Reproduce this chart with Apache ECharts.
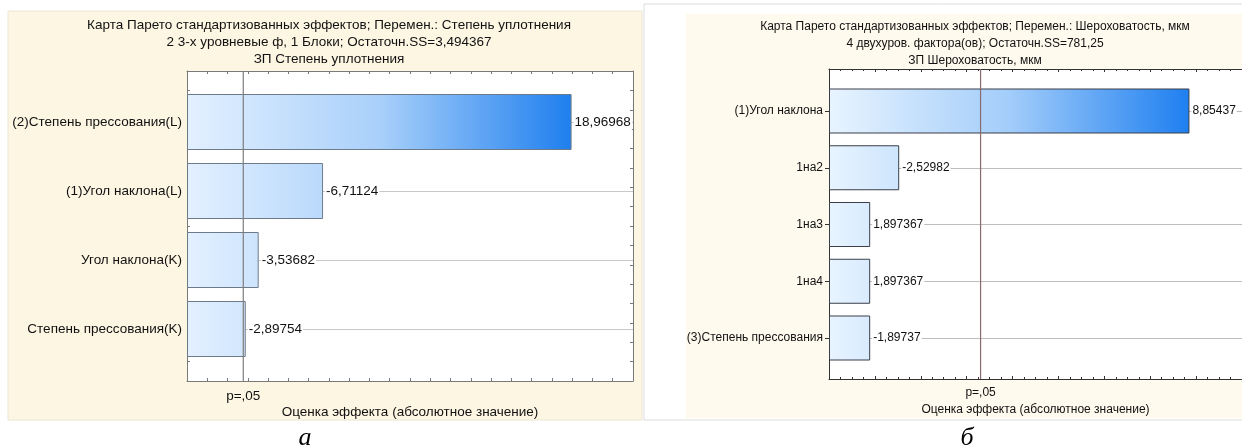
<!DOCTYPE html>
<html><head><meta charset="utf-8">
<script src="https://cdn.jsdelivr.net/npm/echarts@6/dist/echarts.min.js"></script>
<style>html,body{margin:0;padding:0;background:#fff;overflow:hidden}#c{width:1242px;height:447px}</style>
</head><body><div id="c"></div>
<script>
// ---- data ----
const leftTitleLines = ['Карта Парето стандартизованных эффектов; Перемен.: Степень уплотнения', '2 3-х уровневые ф, 1 Блоки; Остаточн.SS=3,494367', 'ЗП Степень уплотнения'];
const leftCategories = ['(2)Степень прессования(L)', '(1)Угол наклона(L)', 'Угол наклона(K)', 'Степень прессования(K)'];
const leftEffects = [18.96968, -6.71124, -3.53682, -2.89754];
const leftCritical = 2.776;
const leftAxisMin = 0, leftAxisMax = 22, leftAxisStep = 1;

const rightTitleLines = ['Карта Парето стандартизованных эффектов; Перемен.: Шероховатость, мкм', '4 двухуров. фактора(ов); Остаточн.SS=781,25', 'ЗП Шероховатость, мкм'];
const rightCategories = ['(1)Угол наклона', '1на2', '1на3', '1на4', '(3)Степень прессования'];
const rightEffects = [8.85437, -2.52982, 1.897367, 1.897367, -1.89737];
const rightCritical = 4.303;
const rightAxisMin = 1, rightAxisMax = 10, rightAxisStep = 1;

const xAxisTitle = 'Оценка эффекта (абсолютное значение)';
const pLabel = 'p=,05';
const panelLetters = ['а', 'б'];

// ---- helpers ----
const fmt = v => String(v).replace('.', ',');
const FONT = 'Liberation Sans, Arial, sans-serif';
const FS_L = 13.5, FS_R = 12;

function frameX(grid, pos, min, max, step, color, minor, name, fs, gap) {
  return {
    type: 'value', gridIndex: grid, position: pos, min: min, max: max, interval: step,
    axisLine: { show: true, onZero: false, lineStyle: { color: color, width: 1 } },
    axisTick: { show: true, inside: true, length: 3, lineStyle: { color: color } },
    minorTick: { show: !!minor, splitNumber: minor || 5, length: 2, lineStyle: { color: color } },
    axisLabel: { show: false }, splitLine: { show: false },
    name: name || '', nameLocation: 'middle', nameGap: gap || 25,
    nameTextStyle: { fontFamily: FONT, fontSize: fs || 12, color: '#111' }
  };
}
function frameY(grid, pos, color, ticks) {
  return {
    type: 'value', gridIndex: grid, position: pos, min: 0, max: 1, interval: 1 / 16,
    axisLine: { show: true, onZero: false, lineStyle: { color: color, width: 1 } },
    axisTick: { show: !!ticks, inside: true, length: 3, lineStyle: { color: color } },
    axisLabel: { show: false }, splitLine: { show: false }
  };
}
function hiddenX(grid, min, max) {
  return { type: 'value', gridIndex: grid, min: min, max: max, show: false };
}
function catY(grid, cats, margin, tick, lineColor, fs) {
  return {
    type: 'category', gridIndex: grid, data: cats, inverse: true, boundaryGap: false,
    axisLine: { show: false, onZero: false },
    axisTick: { show: tick, length: 4, lineStyle: { color: '#333' } },
    axisLabel: { show: true, margin: margin, fontFamily: FONT, fontSize: fs, color: '#111' },
    splitLine: { show: true, lineStyle: { color: lineColor, width: 1 } }
  };
}
// transparent base bar, so that bars begin at the axis minimum
function baseSeries(xi, yi, vals, width, stack, minV) {
  return {
    type: 'bar', xAxisIndex: xi, yAxisIndex: yi, barWidth: width, clip: false, z: 1, stack: stack,
    data: vals.map(() => minV), itemStyle: { color: 'rgba(0,0,0,0)' }, silent: true
  };
}
function barSeries(id, xi, yi, vals, width, border, stack, minV, fs) {
  return {
    id: id, type: 'bar', xAxisIndex: xi, yAxisIndex: yi, barWidth: width, clip: false, z: 2, stack: stack,
    data: vals.map(v => Math.abs(v) - minV),
    itemStyle: { color: '#9cc8f8', borderColor: border, borderWidth: 1 },
    label: {
      show: true, position: 'right', distance: 2,
      formatter: p => fmt(vals[p.dataIndex]),
      fontFamily: FONT, fontSize: fs, color: '#111',
      backgroundColor: '#fff', padding: [1, 1]
    },
    silent: true
  };
}
function pSeries(xi, yi, crit, color, fs) {
  return {
    type: 'line', xAxisIndex: xi, yAxisIndex: yi, z: 6, silent: true,
    symbol: 'circle', symbolSize: 0, showSymbol: true,
    lineStyle: { color: color, width: 1.2 },
    data: [
      { value: [crit, 0], label: { show: true, position: 'bottom', distance: 8, formatter: pLabel, fontFamily: FONT, fontSize: fs, color: '#111' } },
      { value: [crit, 1] }
    ]
  };
}

const option = {
  animation: false,
  graphic: [
    { type: 'rect', shape: { x: 8, y: 11, width: 634, height: 409 }, style: { fill: '#fdf6e3', stroke: '#ece6d6', lineWidth: 1 }, z: -10 },
    { type: 'rect', shape: { x: 644, y: 4, width: 620, height: 416 }, style: { fill: '#ffffff', stroke: '#dcdcdc', lineWidth: 1 }, z: -10 },
    { type: 'rect', shape: { x: 686, y: 14, width: 580, height: 404 }, style: { fill: '#fffaee' }, z: -9 }
  ],
  title: [
    { text: leftTitleLines.join('\n'), left: 324, top: 12, textAlign: 'center',
      textStyle: { fontFamily: FONT, fontSize: FS_L, fontWeight: 'normal', color: '#111', lineHeight: 17 } },
    { text: rightTitleLines.join('\n'), left: 970, top: 13, textAlign: 'center',
      textStyle: { fontFamily: FONT, fontSize: FS_R, fontWeight: 'normal', color: '#111', lineHeight: 17 } },
    { text: panelLetters[0], left: 300, top: 420, textAlign: 'center',
      textStyle: { fontFamily: 'Liberation Serif, serif', fontStyle: 'italic', fontSize: 26, fontWeight: 'normal', color: '#000' } },
    { text: panelLetters[1], left: 962, top: 420, textAlign: 'center',
      textStyle: { fontFamily: 'Liberation Serif, serif', fontStyle: 'italic', fontSize: 26, fontWeight: 'normal', color: '#000' } }
  ],
  grid: [
    { left: 187, top: 71, width: 446, height: 310, show: true, backgroundColor: '#fff', borderWidth: 0 },
    { left: 187, top: 122, width: 446, height: 207 },
    { left: 829, top: 69, width: 424, height: 310, show: true, backgroundColor: '#fff', borderWidth: 0 },
    { left: 829, top: 111, width: 424, height: 227 }
  ],
  xAxis: [
    frameX(0, 'bottom', leftAxisMin, leftAxisMax, leftAxisStep, '#7a7a7a', 0, xAxisTitle, FS_L, 24),
    frameX(0, 'top', leftAxisMin, leftAxisMax, leftAxisStep, '#7a7a7a', 0),
    hiddenX(1, leftAxisMin, leftAxisMax),
    frameX(2, 'bottom', rightAxisMin, rightAxisMax, rightAxisStep, '#333', 4, xAxisTitle, FS_R, 25),
    frameX(2, 'top', rightAxisMin, rightAxisMax, rightAxisStep, '#333', 4),
    hiddenX(3, rightAxisMin, rightAxisMax)
  ],
  yAxis: [
    frameY(0, 'left', '#7a7a7a', true),
    frameY(0, 'right', '#7a7a7a', true),
    catY(1, leftCategories, 5, false, '#c8c8c8', FS_L),
    frameY(2, 'left', '#333', false),
    frameY(2, 'right', '#333', false),
    catY(3, rightCategories, 6, true, '#bdbdbd', FS_R)
  ],
  series: [
    baseSeries(2, 2, leftEffects, 56, 'L', leftAxisMin),
    barSeries('lb', 2, 2, leftEffects, 56, '#6d7a8a', 'L', leftAxisMin, FS_L),
    pSeries(0, 0, leftCritical, '#7d7d7d', FS_L),
    baseSeries(5, 5, rightEffects, 45, 'R', rightAxisMin),
    barSeries('rb', 5, 5, rightEffects, 45, '#3a3f48', 'R', rightAxisMin, FS_R),
    pSeries(3, 3, rightCritical, '#8a6a6e', FS_R)
  ]
};

const chart = echarts.init(document.getElementById('c'), null, { renderer: 'canvas', width: 1242, height: 447 });
chart.setOption(option);

function grad(xi, minV, vals, stops) {
  const x0 = chart.convertToPixel({ xAxisIndex: xi }, minV);
  const x1 = chart.convertToPixel({ xAxisIndex: xi }, Math.max(...vals.map(Math.abs)));
  return new echarts.graphic.LinearGradient(x0, 0, x1, 0, stops, true);
}
chart.setOption({
  series: [
    { id: 'lb', itemStyle: { color: grad(2, leftAxisMin, leftEffects, [
      { offset: 0, color: '#e3f0ff' }, { offset: 0.5, color: '#a9d0fa' }, { offset: 1, color: '#1f7fee' }]) } },
    { id: 'rb', itemStyle: { color: grad(5, rightAxisMin, rightEffects, [
      { offset: 0, color: '#e8f4ff' }, { offset: 0.5, color: '#a3cdfa' }, { offset: 1, color: '#1e7ff0' }]) } }
  ]
});
</script>
</body></html>
